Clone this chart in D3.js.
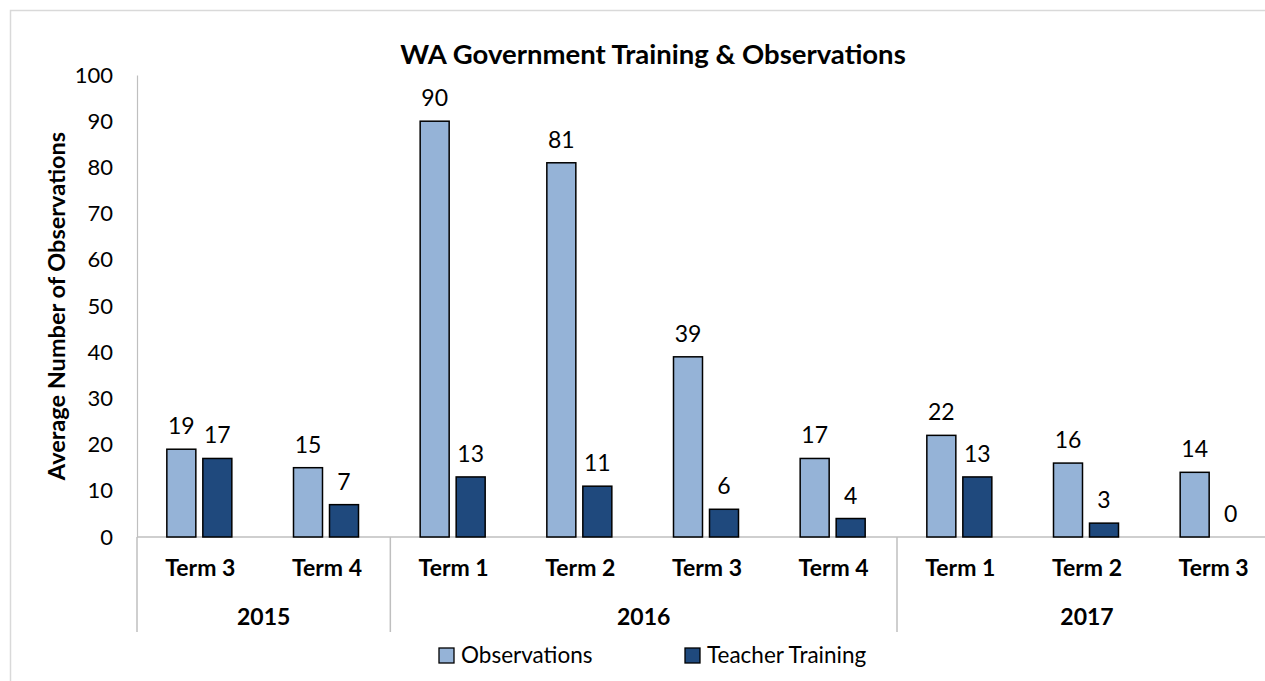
<!DOCTYPE html>
<html><head><meta charset="utf-8">
<script src="https://cdn.jsdelivr.net/npm/d3@7"></script>
<style>body{margin:0;background:#fff;}svg{display:block;font-family:Lato,"Open Sans",sans-serif;}</style>
</head><body><div id="chart"></div>
<script>
const terms = ["Term 3","Term 4","Term 1","Term 2","Term 3","Term 4","Term 1","Term 2","Term 3"];
const years = ["2015","2015","2016","2016","2016","2016","2017","2017","2017"];
const yearGroups = ["2015","2016","2017"];
const observations = [19,15,90,81,39,17,22,16,14];
const teacherTraining = [17,7,13,11,6,4,13,3,0];
const seriesNames = ["Observations","Teacher Training"];
const seriesColors = ["#95B3D7","#1F497D"];
const yTicks = [0,10,20,30,40,50,60,70,80,90,100];

(function(){
const W=1265,H=681;
const svg=d3.select("#chart").append("svg").attr("width",W).attr("height",H);
svg.append("rect").attr("x",10.5).attr("y",10.5).attr("width",1300).attr("height",700)
  .attr("fill","#fff").attr("stroke","#d9d9d9").attr("stroke-width",1.5);

const pL=137,pR=1277,pT=75,pB=537;
const idx=d3.range(terms.length);
const x=d3.scaleBand().domain(idx).range([pL,pR]).paddingInner(0).paddingOuter(0);
const y=d3.scaleLinear().domain([0,100]).range([pB,pT]);
const barW=29, gap=7;

const yAxis=svg.append("g").attr("transform",`translate(${pL},0)`)
  .call(d3.axisLeft(y).tickValues(yTicks).tickSize(0).tickPadding(24));
yAxis.select(".domain").attr("stroke","#bfbfbf").attr("stroke-width",1.2);
yAxis.selectAll("text").attr("font-size",22).attr("fill","#000").attr("font-family","Lato");

svg.append("line").attr("x1",pL).attr("x2",pR).attr("y1",pB).attr("y2",pB)
  .attr("stroke","#bfbfbf").attr("stroke-width",1.5);

const groupBounds=[];
yearGroups.forEach(g=>{
  const ids=idx.filter(i=>years[i]===g);
  groupBounds.push({g, x0:x(ids[0]), x1:x(ids[ids.length-1])+x.bandwidth()});
});
const sepXs=[pL, ...groupBounds.map(b=>b.x1)];
svg.selectAll(".sep").data(sepXs).join("line")
  .attr("x1",d=>d).attr("x2",d=>d).attr("y1",pB).attr("y2",632)
  .attr("stroke","#bfbfbf").attr("stroke-width",1.5);

const series=[observations,teacherTraining];
series.forEach((vals,s)=>{
  const off = s===0 ? -(barW+gap/2+1) : gap/2-1;
  svg.selectAll(".bar"+s).data(idx).join("rect")
    .attr("x",i=>x(i)+x.bandwidth()/2+off)
    .attr("y",i=>y(vals[i]))
    .attr("width",barW)
    .attr("height",i=>y(0)-y(vals[i]))
    .attr("fill",seriesColors[s])
    .attr("stroke","#000").attr("stroke-width",1.5)
    .attr("display",i=>vals[i]===0?"none":null);
  svg.selectAll(".lbl"+s).data(idx).join("text")
    .attr("x",i=>x(i)+x.bandwidth()/2+off+barW/2)
    .attr("y",i=>y(vals[i])-15)
    .attr("text-anchor","middle").attr("font-size",23).attr("fill","#000")
    .text(i=>vals[i]);
});

svg.selectAll(".term").data(idx).join("text")
  .attr("x",i=>x(i)+x.bandwidth()/2).attr("y",576)
  .attr("text-anchor","middle").attr("font-size",23).attr("font-weight","bold").attr("fill","#000")
  .text(i=>terms[i]);
svg.selectAll(".year").data(groupBounds).join("text")
  .attr("x",d=>(d.x0+d.x1)/2).attr("y",625)
  .attr("text-anchor","middle").attr("font-size",23).attr("font-weight","bold").attr("fill","#000")
  .text(d=>d.g);

svg.append("text").attr("x",653).attr("y",64).attr("text-anchor","middle")
  .attr("font-size",27.5).attr("font-weight","bold").attr("fill","#000")
  .text("WA Government Training & Observations");

svg.append("text").attr("transform",`translate(65,${(pT+pB)/2}) rotate(-90)`)
  .attr("text-anchor","middle").attr("font-size",23.5).attr("font-weight","bold").attr("fill","#000")
  .text("Average Number of Observations");

const legX=[439,685];
seriesNames.forEach((n,s)=>{
  svg.append("rect").attr("x",legX[s]).attr("y",648).attr("width",15).attr("height",15)
    .attr("fill",seriesColors[s]).attr("stroke","#000").attr("stroke-width",1.3);
  svg.append("text").attr("x",legX[s]+22).attr("y",663).attr("font-size",22.5).attr("fill","#000").text(n);
});
})();
</script></body></html>
